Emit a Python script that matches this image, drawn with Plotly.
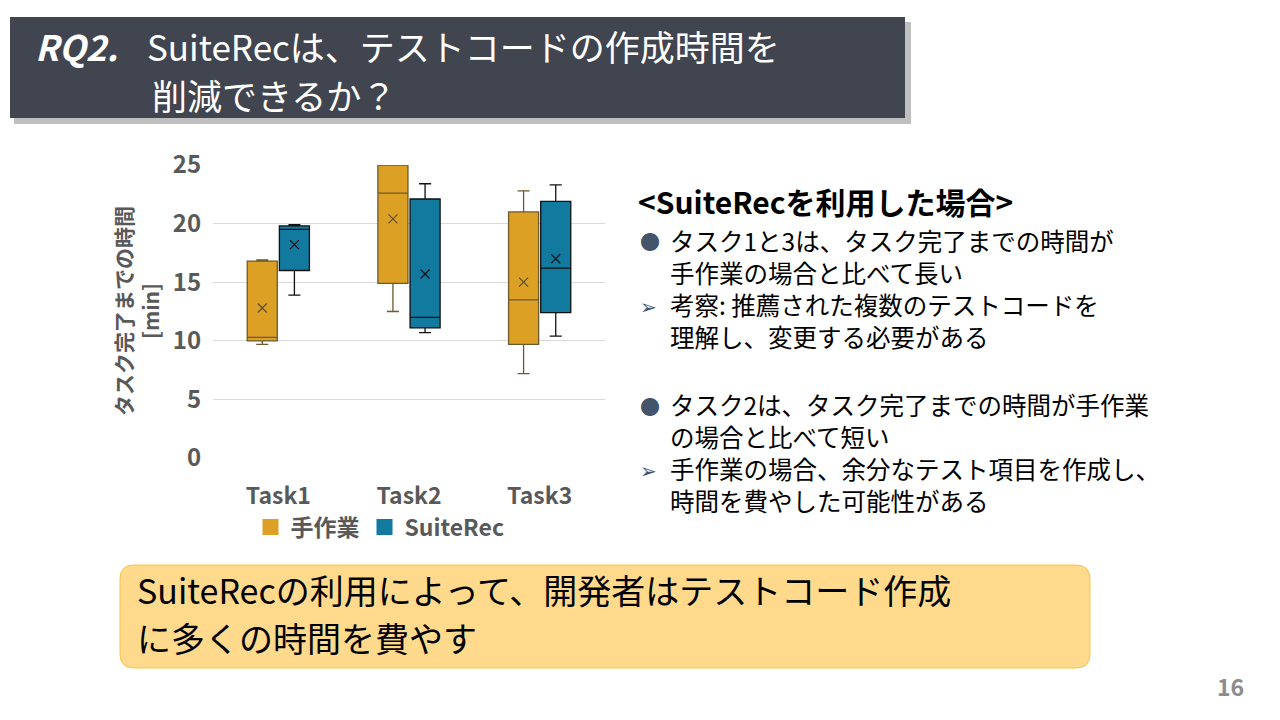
import plotly.graph_objects as go

# ---- data ----
tasks = ["Task1", "Task2", "Task3"]
series = ["手作業", "SuiteRec"]

manual_low = [9.7, 12.5, 7.2]
manual_q1 = [10.0, 14.9, 9.7]
manual_med = [10.3, 22.6, 13.5]
manual_q3 = [16.8, 25.0, 21.0]
manual_high = [16.9, 25.0, 22.8]
manual_mean = [12.8, 20.4, 15.0]

suite_low = [13.9, 10.7, 10.4]
suite_q1 = [16.0, 11.1, 12.4]
suite_med = [19.5, 12.0, 16.2]
suite_q3 = [19.8, 22.1, 21.9]
suite_high = [19.9, 23.4, 23.3]
suite_mean = [18.2, 15.7, 17.0]

yticks = [0, 5, 10, 15, 20, 25]

# page has an 8px body margin, so the figure is 16px smaller than the window
PAD = 8
W, H = 1280 - 2 * PAD, 720 - 2 * PAD
JP = "Noto Sans CJK JP"
ORANGE = "#DBA024"
BLUE = "#12799F"
GREY = "#595959"


def px(x):
    return (x - PAD) / W


def py(y):
    return 1 - (y - PAD) / H


def rrect(x0, y0, x1, y1, r):
    # rounded rectangle path in paper coords, input in window pixels
    rx, ry = r / W, r / H
    a, b, c, d = px(x0), py(y1), px(x1), py(y0)
    return (f"M{a+rx},{b} L{c-rx},{b} Q{c},{b} {c},{b+ry} L{c},{d-ry} Q{c},{d} {c-rx},{d} "
            f"L{a+rx},{d} Q{a},{d} {a},{d-ry} L{a},{b+ry} Q{a},{b} {a+rx},{b} Z")


off = 0.123
pos_m = [i - off for i in range(len(tasks))]
pos_s = [i + off for i in range(len(tasks))]

fig = go.Figure()

fig.add_trace(go.Box(x=pos_m, q1=manual_q1, median=manual_med, q3=manual_q3,
                     lowerfence=manual_low, upperfence=manual_high, orientation="v",
                     width=0.23, whiskerwidth=0.4, boxpoints=False,
                     fillcolor=ORANGE, line=dict(color="#6B5A2E", width=1.3),
                     showlegend=False, name=series[0]))
fig.add_trace(go.Box(x=pos_s, q1=suite_q1, median=suite_med, q3=suite_q3,
                     lowerfence=suite_low, upperfence=suite_high, orientation="v",
                     width=0.23, whiskerwidth=0.4, boxpoints=False,
                     fillcolor=BLUE, line=dict(color="#111111", width=1.3),
                     showlegend=False, name=series[1]))

# mean markers
fig.add_trace(go.Scatter(x=pos_m, y=manual_mean, mode="markers", showlegend=False,
                         marker=dict(symbol="x-thin", size=9, line=dict(color="#5a5030", width=1.2))))
fig.add_trace(go.Scatter(x=pos_s, y=suite_mean, mode="markers", showlegend=False,
                         marker=dict(symbol="x-thin", size=9, line=dict(color="#111111", width=1.2))))

# legend entries
for name, col in zip(series, [ORANGE, BLUE]):
    fig.add_trace(go.Scatter(x=[None], y=[None], mode="markers", name=name,
                             marker=dict(symbol="square", size=16, color=col)))

fig.update_layout(
    width=W, height=H,
    margin=dict(l=0, r=0, t=0, b=0),
    paper_bgcolor="white", plot_bgcolor="white",
    font=dict(family=JP, color=GREY),
    legend=dict(orientation="h", x=px(380), y=py(527), xanchor="center", yanchor="middle",
                font=dict(size=23, color=GREY, family=JP, weight="bold"),
                itemwidth=30, tracegroupgap=0, bgcolor="rgba(0,0,0,0)"),
    xaxis=dict(domain=[px(213), px(605)], range=[-0.5, 2.5], automargin=False,
               tickvals=list(range(len(tasks))), ticktext=tasks,
               ticks="outside", ticklen=17, tickcolor="rgba(0,0,0,0)",
               tickfont=dict(size=23, color=GREY, family=JP, weight="bold"),
               showgrid=False, zeroline=False, showline=False),
    yaxis=dict(domain=[py(458), py(165)], range=[0, 25], automargin=False,
               tickvals=yticks, tickfont=dict(size=24, color=GREY, family=JP, weight="bold"),
               ticks="outside", ticklen=6, tickcolor="rgba(0,0,0,0)",
               showgrid=True, gridcolor="#D9D9D9", gridwidth=1, zeroline=False, showline=False),
)

shapes = []
# header with shadow
shapes.append(dict(type="rect", xref="paper", yref="paper", x0=px(14), x1=px(911), y0=py(124), y1=py(22),
                   fillcolor="rgba(0,0,0,0.25)", line=dict(width=0), layer="below"))
shapes.append(dict(type="rect", xref="paper", yref="paper", x0=px(10), x1=px(905), y0=py(118), y1=py(17),
                   fillcolor="#40454F", line=dict(width=0), layer="below"))
# conclusion box
shapes.append(dict(type="path", xref="paper", yref="paper", path=rrect(120, 565, 1090, 668, 14),
                   fillcolor="#FFDA8C", line=dict(color="#F2C64A", width=1), layer="below"))
fig.update_layout(shapes=shapes)

ann = []
ann.append(dict(text="<b><i>RQ2.</i></b>", x=px(33), y=py(46), font=dict(size=35, color="white", family=JP)))
ann.append(dict(text="SuiteRecは、テストコードの作成時間を", x=px(145), y=py(46),
                font=dict(size=35, color="white", family=JP)))
ann.append(dict(text="削減できるか？", x=px(150), y=py(95), font=dict(size=35, color="white", family=JP)))

ann.append(dict(text="タスク完了までの時間<br>[min]", x=px(136), y=py(311), textangle=-90,
                xanchor="center", font=dict(size=21, color=GREY, family=JP, weight="bold")))

ann.append(dict(text="<b><SuiteRecを利用した場合></b>", x=px(636), y=py(201),
                font=dict(size=30, color="black", family=JP)))

block1 = ["タスク1と3は、タスク完了までの時間が", "手作業の場合と比べて長い",
          "考察: 推薦された複数のテストコードを", "理解し、変更する必要がある"]
block2 = ["タスク2は、タスク完了までの時間が手作業", "の場合と比べて短い",
          "手作業の場合、余分なテスト項目を作成し、", "時間を費やした可能性がある"]
for lines, y0, y1 in [(block1, 241, 336), (block2, 406, 499)]:
    ann.append(dict(text="<br>".join(lines), x=px(668), y=py((y0 + y1) / 2),
                    align="left", font=dict(size=24.5, color="black", family=JP)))
bullets = [("●", 241), ("➢", 305), ("●", 406), ("➢", 469)]
for b, y in bullets:
    ann.append(dict(text=b, x=px(638), y=py(y), font=dict(size=20, color="#44546A", family=JP)))

ann.append(dict(text="SuiteRecの利用によって、開発者はテストコード作成", x=px(135), y=py(589),
                font=dict(size=34, color="black", family=JP)))
ann.append(dict(text="に多くの時間を費やす", x=px(135), y=py(637),
                font=dict(size=34, color="black", family=JP)))
ann.append(dict(text="16", x=px(1246), y=py(686), xanchor="right",
                font=dict(size=23, color="#8C8C8C", family=JP, weight="bold")))

for a in ann:
    a.setdefault("xanchor", "left")
    a.update(xref="paper", yref="paper", yanchor="middle", showarrow=False)
fig.update_layout(annotations=ann)

fig.write_html("out.html")
